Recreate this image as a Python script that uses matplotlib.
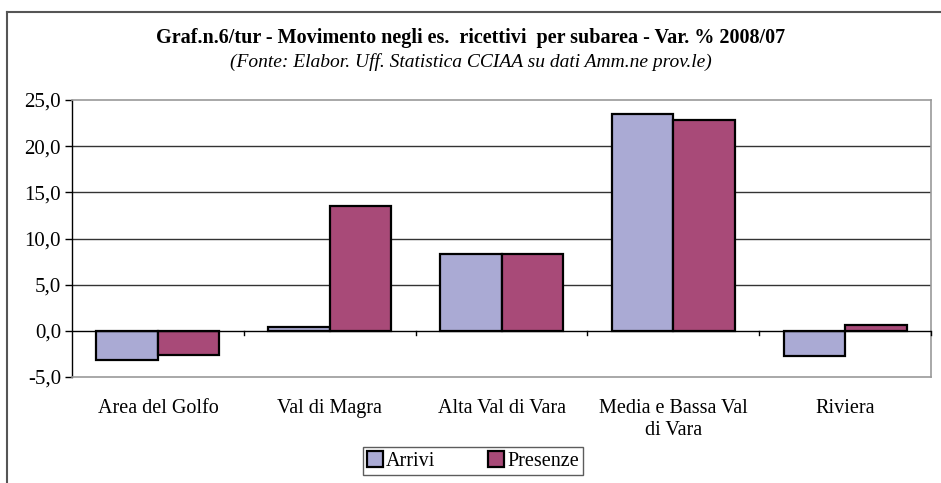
import matplotlib.pyplot as plt
from matplotlib.lines import Line2D
import numpy as np

categories = ['Area del Golfo', 'Val di Magra', 'Alta Val di Vara',
              'Media e Bassa Val\ndi Vara', 'Riviera']
arrivi = [-3.2, 0.4, 8.3, 23.5, -2.7]
presenze = [-2.6, 13.5, 8.3, 22.8, 0.6]
yticks = [-5, 0, 5, 10, 15, 20, 25]
ytick_labels = ['-5,0', '0,0', '5,0', '10,0', '15,0', '20,0', '25,0']


def main():
    plt.rcParams['font.family'] = ['Liberation Serif', 'DejaVu Serif']
    fig = plt.figure(figsize=(9.41, 4.83), dpi=100)
    ax = fig.add_axes([72 / 941, 1 - 377 / 483, (931 - 72) / 941, (377 - 100) / 483])

    x = np.arange(len(categories))
    w = 0.358
    ax.bar(x - w / 2, arrivi, w, color='#aaaad4', edgecolor='black', linewidth=1.6,
           label='Arrivi', zorder=3)
    ax.bar(x + w / 2, presenze, w, color='#a84a78', edgecolor='black', linewidth=1.6,
           label='Presenze', zorder=3)

    ax.set_xlim(-0.5, len(categories) - 0.5)
    ax.set_ylim(-5, 25)
    ax.set_yticks(yticks)
    ax.set_yticklabels(ytick_labels, fontsize=15)
    for y in yticks[2:-1]:
        ax.axhline(y, color='#333333', linewidth=1.0, zorder=1)
    ax.axhline(0, color='black', linewidth=1.0, zorder=4)

    # category labels below the plot, ticks on the zero line
    ax.set_xticks([])
    for i, c in enumerate(categories):
        ax.text(i, -7.4, c, ha='center', va='top', fontsize=14.5, linespacing=1.2)
    for b in np.arange(0.5, len(categories) + 0.5, 1.0):
        ax.plot([b, b], [0, -0.5], color='black', linewidth=1.0, zorder=4, clip_on=False)

    for s in ['top', 'right', 'bottom']:
        ax.spines[s].set_color('#999999')
        ax.spines[s].set_linewidth(1.2)
    ax.spines['left'].set_color('black')
    ax.spines['left'].set_linewidth(1.0)
    ax.tick_params(axis='y', length=5, width=1.0, pad=3)

    fig.text(0.5, 1 - 38 / 483, 'Graf.n.6/tur - Movimento negli es.  ricettivi  per subarea - Var. % 2008/07',
             ha='center', va='center', fontsize=14.5, fontweight='bold')
    fig.text(0.5, 1 - 62 / 483, '(Fonte: Elabor. Uff. Statistica CCIAA su dati Amm.ne prov.le)',
             ha='center', va='center', fontsize=14, style='italic')

    leg = fig.legend(loc='center', bbox_to_anchor=(473 / 941, 1 - 461 / 483), ncol=2,
                     fontsize=14.5, frameon=True, fancybox=False, handlelength=0.8,
                     handleheight=0.8, handletextpad=0.15, columnspacing=2.6,
                     borderpad=0.2, borderaxespad=0)
    leg.get_frame().set_edgecolor('#333333')
    leg.get_frame().set_linewidth(1.0)

    # outer frame of the chart
    fig.add_artist(Line2D([7 / 941, 7 / 941], [0, 1 - 12 / 483], color='#555555', linewidth=1.5))
    fig.add_artist(Line2D([7 / 941, 1], [1 - 12 / 483, 1 - 12 / 483], color='#555555', linewidth=1.5))

    plt.savefig('out.png', dpi=100)


if __name__ == "__main__":
    main()
